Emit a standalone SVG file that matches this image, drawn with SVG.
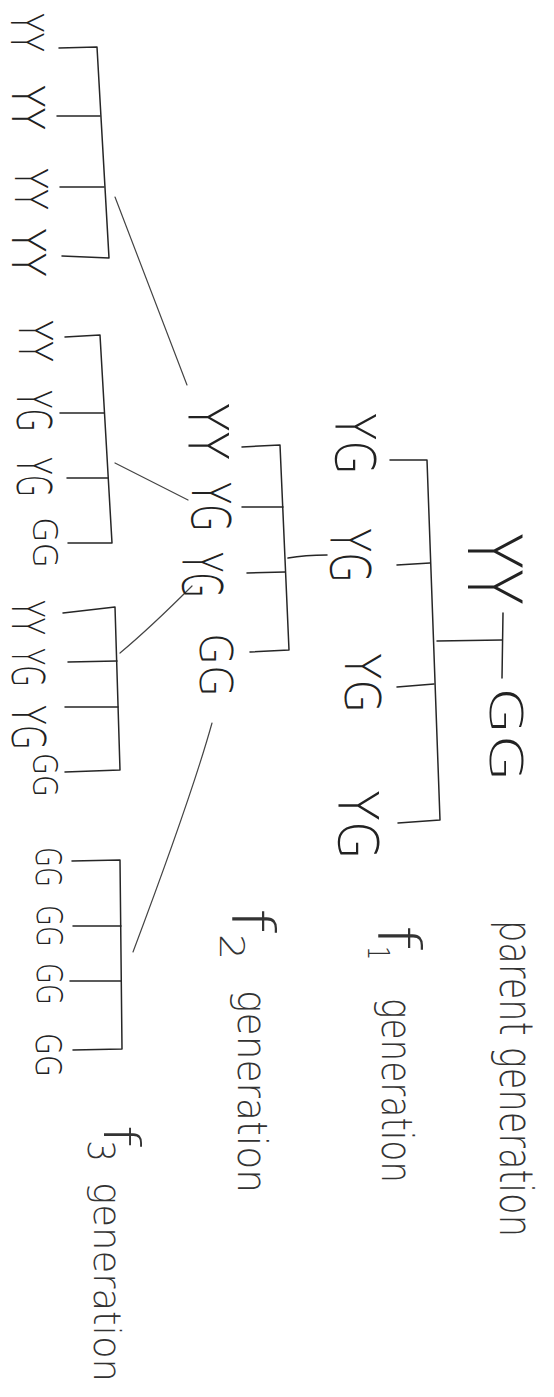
<svg xmlns="http://www.w3.org/2000/svg" width="554" height="1397" viewBox="0 0 554 1397">
  <style>
    .bg { fill: #ffffff; }
    .ln { fill: none; stroke: #262626; stroke-width: 1.5; stroke-linecap: round; stroke-linejoin: round; }
    .fine { fill: none; stroke: #444; stroke-width: 1.2; stroke-linecap: round; }
    .gt { font-family: "DejaVu Sans", "Liberation Sans", sans-serif; font-weight: 200; fill: #222; }
    .lbl { font-family: "DejaVu Sans", "Liberation Sans", sans-serif; font-weight: 200; fill: #333; }
  </style>
  <rect class="bg" x="0" y="0" width="554" height="1397"/>

  <!-- connectors: crosses, brackets and lines between generations -->
  <g id="connectors">
    <!-- parent cross -->
    <path class="ln" d="M503,613 L502,678"/>
    <path class="ln" d="M437,641 L502,640"/>
    <!-- F1 bracket -->
    <path class="ln" d="M390,460 L427,460 L440,820 L398,823"/>
    <path class="ln" d="M397,565 L430,563"/>
    <path class="ln" d="M397,687 L434,684"/>
    <!-- F1 YG to F2 bracket -->
    <path class="ln" d="M288,558 Q305,555 327,555"/>
    <!-- F2 bracket -->
    <path class="ln" d="M242,447 L280,445 L289,650 L250,652"/>
    <path class="ln" d="M242,507 L283,507"/>
    <path class="ln" d="M247,573 L285,572"/>
    <!-- F2 to F3 lines -->
    <path class="fine" d="M115,197 L187,385"/>
    <path class="fine" d="M115,463 L188,500"/>
    <path class="fine" d="M120,653 Q150,628 192,586"/>
    <path class="fine" d="M212,723 Q192,795 133,952"/>
    <!-- F3 bracket 1 -->
    <path class="ln" d="M59,48 L97,47 L109,258 L62,256"/>
    <path class="ln" d="M57,116 L100,116"/>
    <path class="ln" d="M60,187 L104,187"/>
    <!-- F3 bracket 2 -->
    <path class="ln" d="M65,337 L100,335 L112,543 L68,543"/>
    <path class="ln" d="M60,413 L104,413"/>
    <path class="ln" d="M67,478 L108,478"/>
    <!-- F3 bracket 3 -->
    <path class="ln" d="M63,613 L115,607 L120,770 L65,772"/>
    <path class="ln" d="M68,662 L117,661"/>
    <path class="ln" d="M65,707 L118,707"/>
    <!-- F3 bracket 4 -->
    <path class="ln" d="M72,861 L120,860 L122,1049 L73,1050"/>
    <path class="ln" d="M73,926 L121,926"/>
    <path class="ln" d="M70,981 L121,981"/>
  </g>

  <!-- parent generation -->
  <g id="p-yy"><text class="gt" font-size="74" transform="translate(468,533) rotate(90)" textLength="72" lengthAdjust="spacingAndGlyphs">YY</text></g>
  <g id="p-gg"><text class="gt" font-size="44" transform="translate(490,687) rotate(90)" textLength="95" lengthAdjust="spacingAndGlyphs">GG</text></g>

  <!-- F1 -->
  <g id="f1-1"><text class="gt" font-size="56" transform="translate(336,413) rotate(90)" textLength="62" lengthAdjust="spacingAndGlyphs">YG</text></g>
  <g id="f1-2"><text class="gt" font-size="56" transform="translate(331,528) rotate(90)" textLength="55" lengthAdjust="spacingAndGlyphs">YG</text></g>
  <g id="f1-3"><text class="gt" font-size="50" transform="translate(345,653) rotate(90)" textLength="60" lengthAdjust="spacingAndGlyphs">YG</text></g>
  <g id="f1-4"><text class="gt" font-size="56" transform="translate(339,790) rotate(90)" textLength="70" lengthAdjust="spacingAndGlyphs">YG</text></g>

  <!-- F2 -->
  <g id="f2-1"><text class="gt" font-size="56" transform="translate(189,403) rotate(90)" textLength="57" lengthAdjust="spacingAndGlyphs">YY</text></g>
  <g id="f2-2"><text class="gt" font-size="54" transform="translate(192,482) rotate(90)" textLength="50" lengthAdjust="spacingAndGlyphs">YG</text></g>
  <g id="f2-3"><text class="gt" font-size="56" transform="translate(183,552) rotate(90)" textLength="46" lengthAdjust="spacingAndGlyphs">YG</text></g>
  <g id="f2-4"><text class="gt" font-size="44" transform="translate(200,633) rotate(90)" textLength="64" lengthAdjust="spacingAndGlyphs">GG</text></g>

  <!-- F3, group 1 -->
  <g id="f3-1a"><text class="gt" font-size="44" transform="translate(11,13) rotate(90)" textLength="39" lengthAdjust="spacingAndGlyphs">YY</text></g>
  <g id="f3-1b"><text class="gt" font-size="44" transform="translate(12,85) rotate(90)" textLength="45" lengthAdjust="spacingAndGlyphs">YY</text></g>
  <g id="f3-1c"><text class="gt" font-size="44" transform="translate(15,168) rotate(90)" textLength="42" lengthAdjust="spacingAndGlyphs">YY</text></g>
  <g id="f3-1d"><text class="gt" font-size="46" transform="translate(12,228) rotate(90)" textLength="49" lengthAdjust="spacingAndGlyphs">YY</text></g>

  <!-- F3, group 2 -->
  <g id="f3-2a"><text class="gt" font-size="46" transform="translate(19,320) rotate(90)" textLength="42" lengthAdjust="spacingAndGlyphs">YY</text></g>
  <g id="f3-2b"><text class="gt" font-size="48" transform="translate(17,390) rotate(90)" textLength="42" lengthAdjust="spacingAndGlyphs">YG</text></g>
  <g id="f3-2c"><text class="gt" font-size="48" transform="translate(17,457) rotate(90)" textLength="40" lengthAdjust="spacingAndGlyphs">YG</text></g>
  <g id="f3-2d"><text class="gt" font-size="34" transform="translate(33,517) rotate(90)" textLength="51" lengthAdjust="spacingAndGlyphs">GG</text></g>

  <!-- F3, group 3 -->
  <g id="f3-3a"><text class="gt" font-size="44" transform="translate(12,600) rotate(90)" textLength="35" lengthAdjust="spacingAndGlyphs">YY</text></g>
  <g id="f3-3b"><text class="gt" font-size="44" transform="translate(12,648) rotate(90)" textLength="39" lengthAdjust="spacingAndGlyphs">YG</text></g>
  <g id="f3-3c"><text class="gt" font-size="46" transform="translate(12,705) rotate(90)" textLength="45" lengthAdjust="spacingAndGlyphs">YG</text></g>
  <g id="f3-3d"><text class="gt" font-size="34" transform="translate(33,753) rotate(90)" textLength="44" lengthAdjust="spacingAndGlyphs">GG</text></g>

  <!-- F3, group 4 -->
  <g id="f3-4a"><text class="gt" font-size="36" transform="translate(36,847) rotate(90)" textLength="40" lengthAdjust="spacingAndGlyphs">GG</text></g>
  <g id="f3-4b"><text class="gt" font-size="36" transform="translate(37,905) rotate(90)" textLength="42" lengthAdjust="spacingAndGlyphs">GG</text></g>
  <g id="f3-4c"><text class="gt" font-size="36" transform="translate(37,963) rotate(90)" textLength="42" lengthAdjust="spacingAndGlyphs">GG</text></g>
  <g id="f3-4d"><text class="gt" font-size="36" transform="translate(36,1033) rotate(90)" textLength="44" lengthAdjust="spacingAndGlyphs">GG</text></g>

  <!-- generation labels -->
  <g id="label-parent">
    <text class="lbl" font-size="46" transform="translate(500,920) rotate(90)" textLength="317" lengthAdjust="spacingAndGlyphs">parent generation</text>
  </g>
  <g id="label-f1">
    <text class="lbl" font-size="58" transform="translate(378,925) rotate(90)" textLength="25" lengthAdjust="spacingAndGlyphs">f</text>
    <text class="lbl" font-size="30" transform="translate(368,946) rotate(90)" textLength="14" lengthAdjust="spacingAndGlyphs">1</text>
    <text class="lbl" font-size="42" transform="translate(382,998) rotate(90)" textLength="185" lengthAdjust="spacingAndGlyphs">generation</text>
  </g>
  <g id="label-f2">
    <text class="lbl" font-size="58" transform="translate(232,908) rotate(90)" textLength="25" lengthAdjust="spacingAndGlyphs">f</text>
    <text class="lbl" font-size="34" transform="translate(220,934) rotate(90)" textLength="26" lengthAdjust="spacingAndGlyphs">2</text>
    <text class="lbl" font-size="40" transform="translate(238,990) rotate(90)" textLength="203" lengthAdjust="spacingAndGlyphs">generation</text>
  </g>
  <g id="label-f3">
    <text class="lbl" font-size="50" transform="translate(104,1125) rotate(90)" textLength="22" lengthAdjust="spacingAndGlyphs">f</text>
    <text class="lbl" font-size="38" transform="translate(88,1140) rotate(90)" textLength="22" lengthAdjust="spacingAndGlyphs">3</text>
    <text class="lbl" font-size="38" transform="translate(94,1182) rotate(90)" textLength="200" lengthAdjust="spacingAndGlyphs">generation</text>
  </g>
</svg>
